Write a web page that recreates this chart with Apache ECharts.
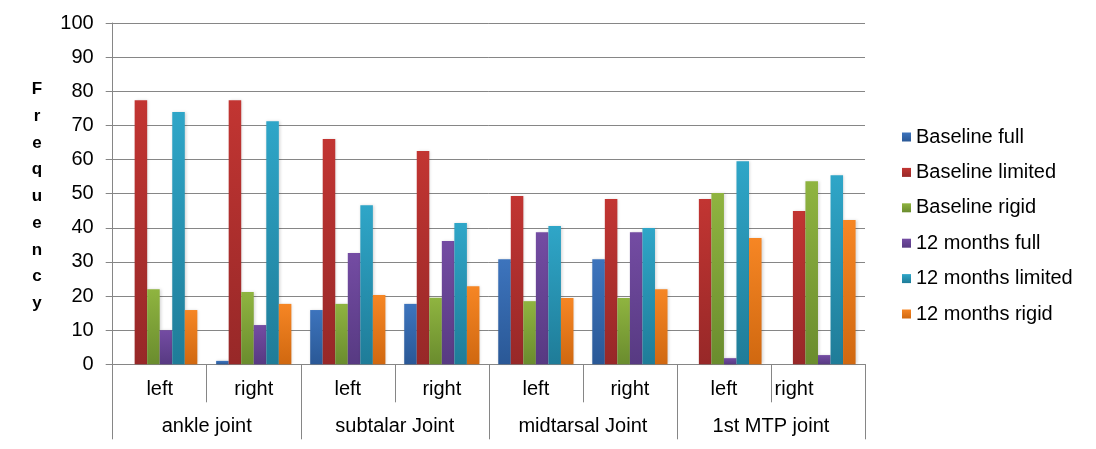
<!DOCTYPE html>
<html>
<head>
<meta charset="utf-8">
<script src="https://cdn.jsdelivr.net/npm/echarts@6/dist/echarts.min.js"></script>
<style>
  html, body { margin: 0; padding: 0; background: #fff; }
  #chart { width: 1096px; height: 449px; }
</style>
</head>
<body>
<div id="chart"></div>
<script>
// data
const sides = ['left', 'right', 'left', 'right', 'left', 'right', 'left', 'right'];
const joints = ['ankle joint', 'subtalar Joint', 'midtarsal Joint', '1st MTP joint'];
const yTicks = [0, 100, 10];

const baselineFull = [0, 1, 15.9, 17.7, 30.8, 30.8, 0, 0];
const baselineLimited = [77.4, 77.4, 66.0, 62.5, 49.3, 48.4, 48.4, 44.9];
const baselineRigid = [22.0, 21.2, 17.7, 19.5, 18.5, 19.4, 50.2, 53.6];
const monthsFull = [10.0, 11.5, 32.6, 36.1, 38.7, 38.7, 1.8, 2.7];
const monthsLimited = [73.9, 71.2, 46.6, 41.4, 40.5, 39.9, 59.5, 55.4];
const monthsRigid = [15.9, 17.7, 20.3, 22.9, 19.4, 22.0, 37.0, 42.3];

const seriesDefs = [
  { name: 'Baseline full', data: baselineFull, top: '#3d74bd', bottom: '#2a5896' },
  { name: 'Baseline limited', data: baselineLimited, top: '#c23532', bottom: '#972828' },
  { name: 'Baseline rigid', data: baselineRigid, top: '#8fb440', bottom: '#6a8c2e' },
  { name: '12 months full', data: monthsFull, top: '#744ca3', bottom: '#573a82' },
  { name: '12 months limited', data: monthsLimited, top: '#2fa6c8', bottom: '#1f7c98' },
  { name: '12 months rigid', data: monthsRigid, top: '#f68624', bottom: '#d06810' },
];

const font = '"Liberation Sans", Arial, sans-serif';
const lineColor = '#868686';
const labelSize = 20;

const chart = echarts.init(document.getElementById('chart'));

// last "right" label sits left-aligned against its separator in the original
const sideData = sides.map((s, i) =>
  i === sides.length - 1 ? { value: s, textStyle: { padding: [0, 48, 0, 0] } } : s
);

const option = {
  animation: false,
  textStyle: { fontFamily: font, color: '#000' },
  grid: { left: 112.7, right: 231, top: 23, bottom: 84.7 },
  legend: {
    orient: 'vertical',
    left: 897,
    top: 122,
    icon: 'rect',
    itemWidth: 9,
    itemHeight: 9,
    itemGap: 15.4,
    textStyle: { fontSize: labelSize, color: '#000', fontFamily: font },
    data: seriesDefs.map(s => s.name),
  },
  graphic: [
    {
      type: 'text',
      x: 37,
      y: 76,
      style: {
        text: 'Frequency'.split('').join('\n'),
        font: 'bold 17px ' + font,
        fill: '#000',
        align: 'center',
        verticalAlign: 'top',
        lineHeight: 26.75,
      },
    },
  ],
  xAxis: [
    {
      type: 'category',
      data: sideData,
      position: 'bottom',
      axisLine: { show: true, lineStyle: { color: lineColor } },
      axisTick: { show: true, length: 38, interval: 0, lineStyle: { color: lineColor } },
      axisLabel: { interval: 0, margin: 15, fontSize: labelSize, color: '#000', fontFamily: font },
    },
    {
      type: 'category',
      data: joints,
      position: 'bottom',
      axisLine: { show: false },
      axisTick: { show: true, length: 75, interval: 0, lineStyle: { color: lineColor } },
      axisLabel: { interval: 0, margin: 52, fontSize: labelSize, color: '#000', fontFamily: font },
    },
  ],
  yAxis: {
    type: 'value',
    min: yTicks[0],
    max: yTicks[1],
    interval: yTicks[2],
    axisLine: { show: true, lineStyle: { color: lineColor } },
    axisTick: { show: true, length: 7, lineStyle: { color: lineColor } },
    splitLine: { lineStyle: { color: lineColor, width: 1 } },
    axisLabel: { margin: 19, fontSize: labelSize, color: '#000', fontFamily: font },
  },
  series: seriesDefs.map(s => ({
    name: s.name,
    type: 'bar',
    xAxisIndex: 0,
    data: s.data,
    barGap: '0%',
    barCategoryGap: '20%',
    itemStyle: {
      color: new echarts.graphic.LinearGradient(0, 0, 0, 1, [
        { offset: 0, color: s.top },
        { offset: 1, color: s.bottom },
      ]),
      shadowBlur: 3,
      shadowColor: 'rgba(0,0,0,0.18)',
      shadowOffsetX: 1,
    },
  })),
};

chart.setOption(option);
</script>
</body>
</html>
